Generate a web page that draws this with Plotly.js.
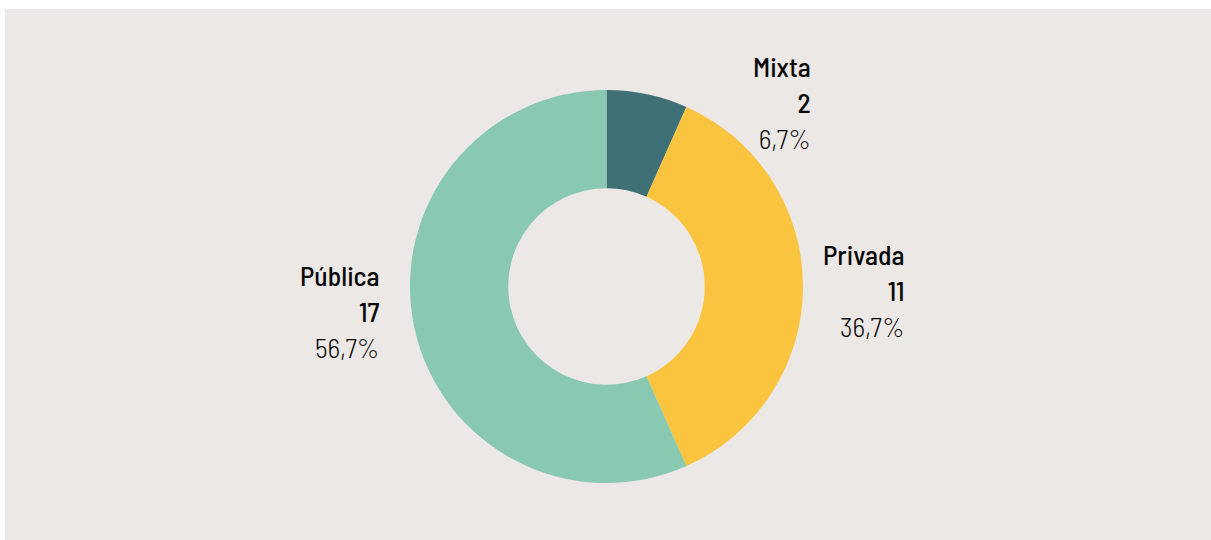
<!DOCTYPE html>
<html>
<head>
<meta charset="utf-8">
<script src="https://cdn.plot.ly/plotly-3.0.1.min.js"></script>
<style>
  html, body { margin:0; padding:0; background:#ffffff; width:1211px; height:540px; overflow:hidden; }
  #chart { position:absolute; left:5px; top:9px; width:1206px; height:531px; }
</style>
</head>
<body>
<div id="chart"></div>
<script>
const categories = ["Mixta", "Privada", "Pública"];
const counts = [2, 11, 17];
const colors = ["#3F7075", "#FBC43E", "#8AC9B1"];
const labelPos = [[0.6700, 0.8255], [0.7470, 0.4710], [0.3125, 0.4310]];

const total = counts.reduce((a, b) => a + b, 0);
const pctText = v => (v / total * 100).toFixed(1).replace('.', ',') + '%';

const FONT = "'Barlow Semi Condensed', 'Roboto Condensed', 'Liberation Sans Narrow', 'DejaVu Sans Condensed', sans-serif";

const trace = {
  type: 'pie',
  labels: categories,
  values: counts,
  sort: false,
  direction: 'clockwise',
  rotation: 0,
  hole: 0.5,
  textinfo: 'none',
  hoverinfo: 'label+value+percent',
  marker: { colors: colors, line: { width: 0 } },
  domain: { x: [0.3358, 0.6617], y: [0.1073, 0.8475] },
  showlegend: false
};

const annotations = categories.map((c, i) => ({
  xref: 'paper', yref: 'paper',
  x: labelPos[i][0], y: labelPos[i][1],
  xanchor: 'right', yanchor: 'middle',
  align: 'right',
  showarrow: false,
  text: '<span style="font-weight:500">' + c + '</span><br><span style="font-weight:500">' + counts[i] + '</span><br><span style="font-weight:300;color:#0a0a0a">' + pctText(counts[i]) + '</span>',
  font: { family: FONT, size: 27.5, color: '#0a0a0a' }
}));

const layout = {
  width: 1206, height: 531,
  margin: { l: 0, r: 0, t: 0, b: 0 },
  paper_bgcolor: '#ECE8E5',
  plot_bgcolor: '#ECE8E5',
  annotations: annotations,
  showlegend: false
};

Plotly.newPlot('chart', [trace], layout, { displayModeBar: false, staticPlot: true });
</script>
</body>
</html>
